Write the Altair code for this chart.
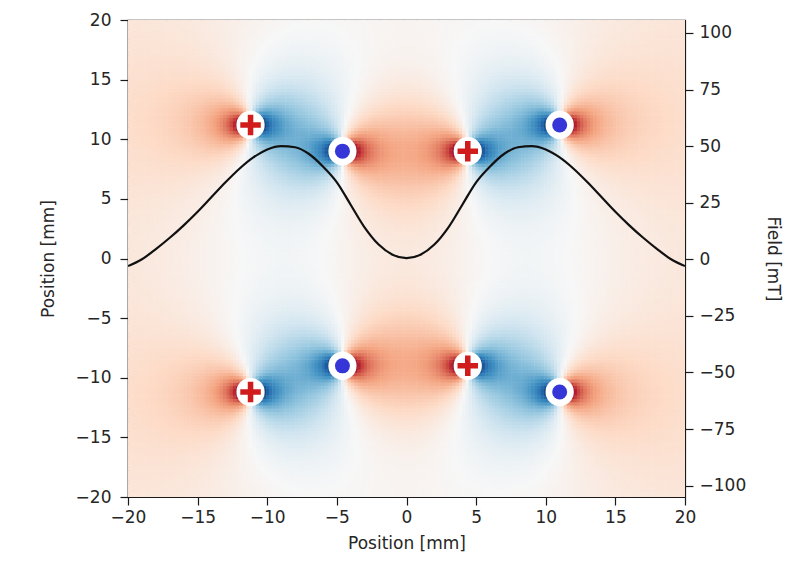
import altair as alt
import numpy as np
import pandas as pd

# ---- data ----
wire_x = [-11.2, -4.6, 4.4, 11.0, -11.2, -4.6, 4.4, 11.0]
wire_y = [11.2, 9.0, 9.0, 11.2, -11.2, -9.0, -9.0, -11.2]
wire_kind = ["plus", "dot", "plus", "dot", "plus", "dot", "plus", "dot"]
wire_current = [-1, 1, -1, 1, -1, 1, -1, 1]  # dot = out of page, plus = into page

line_x = list(range(-20, 21))
line_field = [-3, 0, 4.5, 9.5, 15, 21, 27.5, 34, 40, 45, 48.5, 50, 49.5, 46.5, 41,
              34, 24, 14, 6.5, 2, 0.5, 2, 6.5, 14, 24, 34, 41, 46.5, 49.5,
              50, 48.5, 45, 40, 34, 27.5, 21, 15, 9.5, 4.5, 0, -3]

x_ticks = [-20, -15, -10, -5, 0, 5, 10, 15, 20]
y_ticks = [-20, -15, -10, -5, 0, 5, 10, 15, 20]
field_ticks = [-100, -75, -50, -25, 0, 25, 50, 75, 100]

rdbu_r = ["#053061", "#2166ac", "#4393c3", "#92c5de", "#d1e5f0", "#f7f7f7",
          "#fddbc7", "#f4a582", "#d6604d", "#b2182b", "#67001f"]

# ---- field map (By of the line currents) ----
nx, ny = 170, 146
hx, hy = 40.0 / nx, 40.0 / ny
gx = -20 + hx * (np.arange(nx) + 0.5)
gy = -20 + hy * (np.arange(ny) + 0.5)
GX, GY = np.meshgrid(gx, gy)
V = np.zeros_like(GX)
for wx, wy, s in zip(wire_x, wire_y, wire_current):
    dx = GX - wx
    dy = GY - wy
    V += s * dx / (dx * dx + dy * dy + 1e-6)
heat_df = pd.DataFrame({"x": GX.ravel().round(3), "y": GY.ravel().round(3),
                        "v": V.ravel().round(4)})

# colour normalisation (mildly compressive, centred slightly below zero)
mid, K, p = -0.075, 1.15, 1.3
stops = [round(mid - K * (i / 5) ** p, 4) for i in range(5, 0, -1)] + [mid] + \
        [round(mid + K * (i / 5) ** p, 4) for i in range(1, 6)]

wires_df = pd.DataFrame({"x": wire_x, "y": wire_y, "kind": wire_kind})
line_df = pd.DataFrame({"x": line_x, "field": line_field})

FONT = "DejaVu Sans"
TXT = "#262626"

xscale = alt.Scale(domain=[-20, 20], nice=False, zero=False)
yscale = alt.Scale(domain=[-20, 20], nice=False, zero=False)
xaxis = alt.Axis(values=x_ticks, grid=False, title="Position [mm]", tickSize=8,
                 labelPadding=4, titlePadding=10, format="d", labelFlush=False)
yaxis = alt.Axis(values=y_ticks, grid=False, title="Position [mm]", tickSize=8,
                 labelPadding=9, titlePadding=18, format="d", labelFlush=False)

heat = alt.Chart(heat_df).mark_rect(clip=True).transform_calculate(
    x0=f"datum.x - {hx/2}", x1=f"datum.x + {hx*0.65}",
    y0=f"datum.y - {hy/2}", y1=f"datum.y + {hy*0.65}",
).encode(
    x=alt.X("x0:Q", scale=xscale, axis=xaxis),
    x2="x1:Q",
    y=alt.Y("y0:Q", scale=yscale, axis=yaxis),
    y2="y1:Q",
    color=alt.Color("v:Q", scale=alt.Scale(domain=stops, range=rdbu_r, clamp=True,
                                           interpolate="rgb"), legend=None),
)

white = alt.Chart(wires_df).mark_point(shape="circle", filled=True, color="white",
                                       opacity=1, size=800).encode(
    x=alt.X("x:Q", scale=xscale, axis=xaxis),
    y=alt.Y("y:Q", scale=yscale, axis=yaxis),
)
dots = alt.Chart(wires_df).transform_filter("datum.kind == 'dot'").mark_point(
    shape="circle", filled=True, color="#3636d8", opacity=1, size=225).encode(
    x=alt.X("x:Q", scale=xscale, axis=xaxis),
    y=alt.Y("y:Q", scale=yscale, axis=yaxis),
)
plus_path = "M-1,-0.27H-0.27V-1H0.27V-0.27H1V0.27H0.27V1H-0.27V0.27H-1Z"
crosses = alt.Chart(wires_df).transform_filter("datum.kind == 'plus'").mark_point(
    shape=plus_path, filled=True, color="#d01c1c", opacity=1, size=420).encode(
    x=alt.X("x:Q", scale=xscale, axis=xaxis),
    y=alt.Y("y:Q", scale=yscale, axis=yaxis),
)

left = alt.layer(heat, white, dots, crosses)

line = alt.Chart(line_df).mark_line(color="#111111", strokeWidth=2.2, clip=True,
                                    interpolate="monotone").encode(
    x=alt.X("x:Q", scale=xscale, axis=xaxis),
    y=alt.Y("field:Q", scale=alt.Scale(domain=[-105, 105.7], nice=False, zero=False),
            axis=alt.Axis(orient="right", values=field_ticks, grid=False,
                          title="Field [mT]", tickSize=8, labelPadding=6,
                          titlePadding=18, format="d", labelFlush=False)),
)

chart = alt.layer(left, line).resolve_scale(y="independent").properties(
    width=557, height=477,
    autosize=alt.AutoSizeParams(type="none"),
    padding={"left": 120, "top": 12, "right": 108, "bottom": 56},
).configure_view(stroke="#1a1a1a", strokeWidth=1.2).configure_axis(
    labelFont=FONT, titleFont=FONT, labelFontSize=17, titleFontSize=17,
    labelColor=TXT, titleColor=TXT, titleFontWeight="normal",
    domainColor="#1a1a1a", tickColor="#1a1a1a", domainWidth=1.2, tickWidth=1.2,
)

chart.save("out.html", embed_options={"renderer": "svg", "actions": False})
